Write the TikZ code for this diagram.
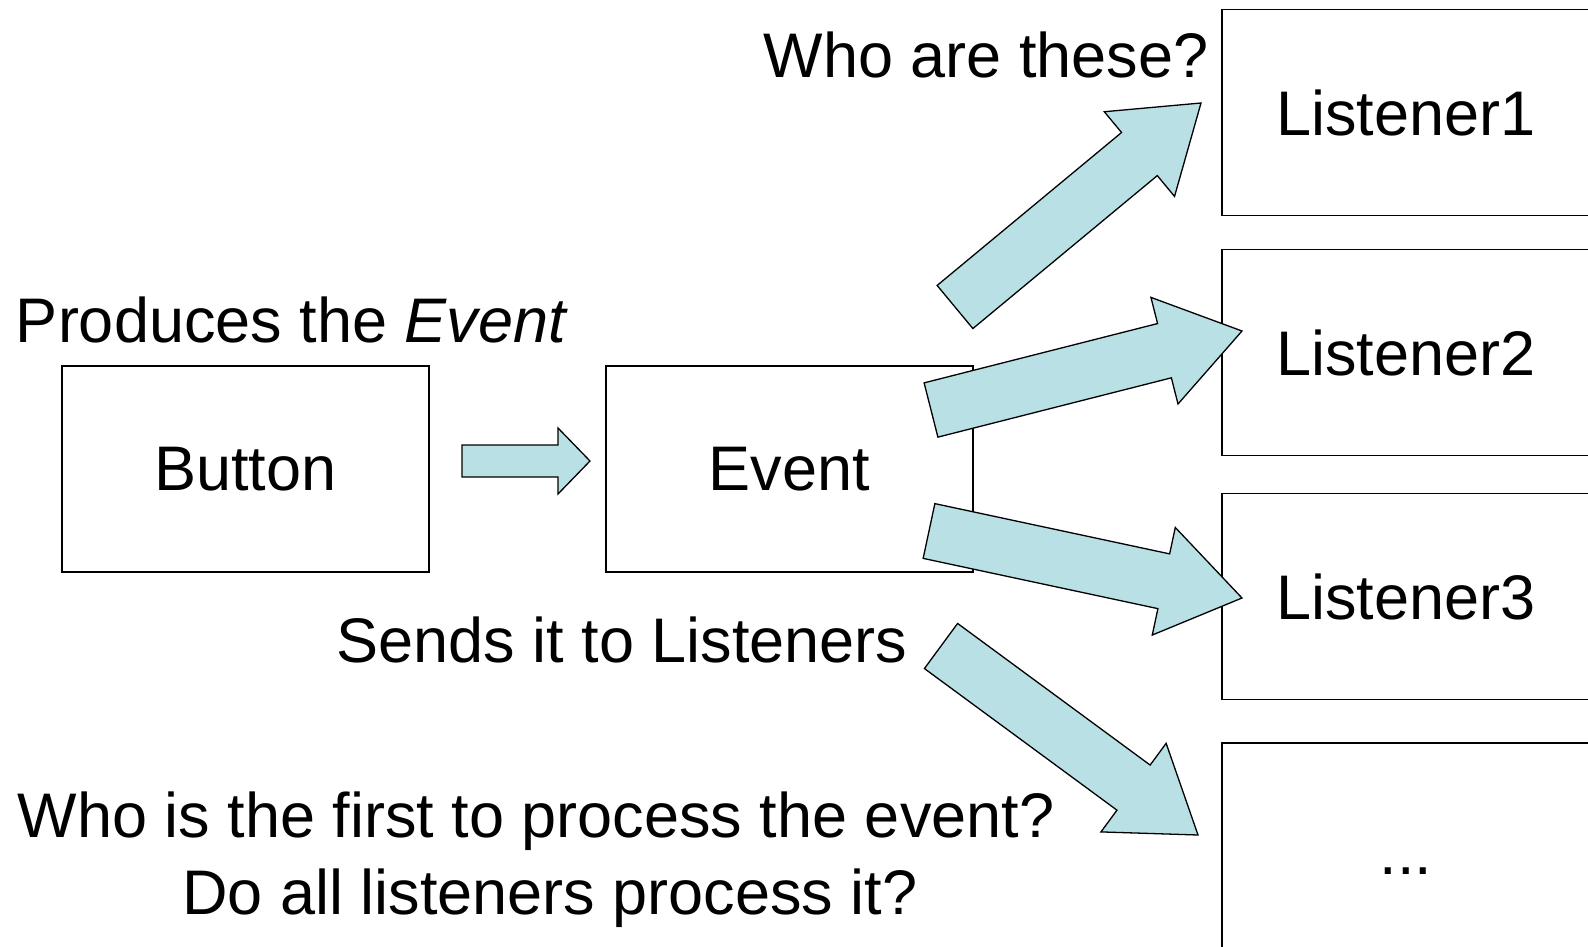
\documentclass[tikz,border=0pt]{standalone}
\usepackage{fontspec}
\setmainfont{Liberation Sans}
\usetikzlibrary{calc}

\definecolor{arrowfill}{RGB}{185,224,228}

\tikzset{
  box/.style = {draw, line width = 1.6pt, minimum width = 367pt,
    minimum height = 206pt, inner sep = 0pt},
  remark/.style = {anchor = base, inner sep = 0pt},
  fat arrow/.style = {draw, fill = arrowfill, line width = 1.3pt,
    line join = miter}
}

% block arrow: tail, tip, half shaft, half head, head length
\newcommand{\fatarrow}[5]{%
  \coordinate (hb) at ($(#2)!#5!(#1)$);
  \draw [fat arrow]
  ($(#1)!#3!90:(#2)$) -- ($(hb)!#3!90:(#2)$) -- ($(hb)!#4!90:(#2)$)
  -- (#2) -- ($(hb)!#4!-90:(#2)$) -- ($(hb)!#3!-90:(#2)$)
  -- ($(#1)!#3!-90:(#2)$) -- cycle;
}

\begin{document}
\begin{tikzpicture}[x = 1pt, y = -1pt,
    font = \fontsize{63}{76}\selectfont]
    \useasboundingbox (0,0) rectangle (1588,947);

    \node [box] (button) at (245.5,469) {Button};
    \node [box] (event) at (789.5,469) {Event};
    \foreach \n/\y in {1/112.5, 2/352.5, 3/596.5} {
      \node [box, minimum width = 368pt] (listener\n) at (1406,\y) {Listener\n};
    }
    \node [box, minimum width = 368pt, minimum height = 216pt]
    (others) at (1406,851) {\raisebox{0pt}[46pt][0pt]{...}};

    \node [remark] (who) at (986,78) {Who are these?};
    \node [remark] (produces) at (292,342) {Produces the \emph{Event}};
    \node [remark] (sends) at (622,662) {Sends it to Listeners};
    \node [remark] (first) at (536,837) {Who is the first to process the event?};
    \node [remark] (all) at (550,914) {Do all listeners process it?};

    \coordinate (tail0) at (462,461);
    \coordinate (tip0) at (590,461);
    \coordinate (tail1) at (955,307);
    \coordinate (tip1) at (1201,103);
    \coordinate (tail2) at (931,410);
    \coordinate (tip2) at (1242,331);
    \coordinate (tail3) at (929,531);
    \coordinate (tip3) at (1242,598);
    \coordinate (tail4) at (941,646);
    \coordinate (tip4) at (1198,835);

    \fatarrow{tail0}{tip0}{16pt}{33pt}{32pt}
    \foreach \i in {1,2,3,4} {
      \fatarrow{tail\i}{tip\i}{28pt}{55pt}{80pt}
    }
  \end{tikzpicture}
\end{document}
